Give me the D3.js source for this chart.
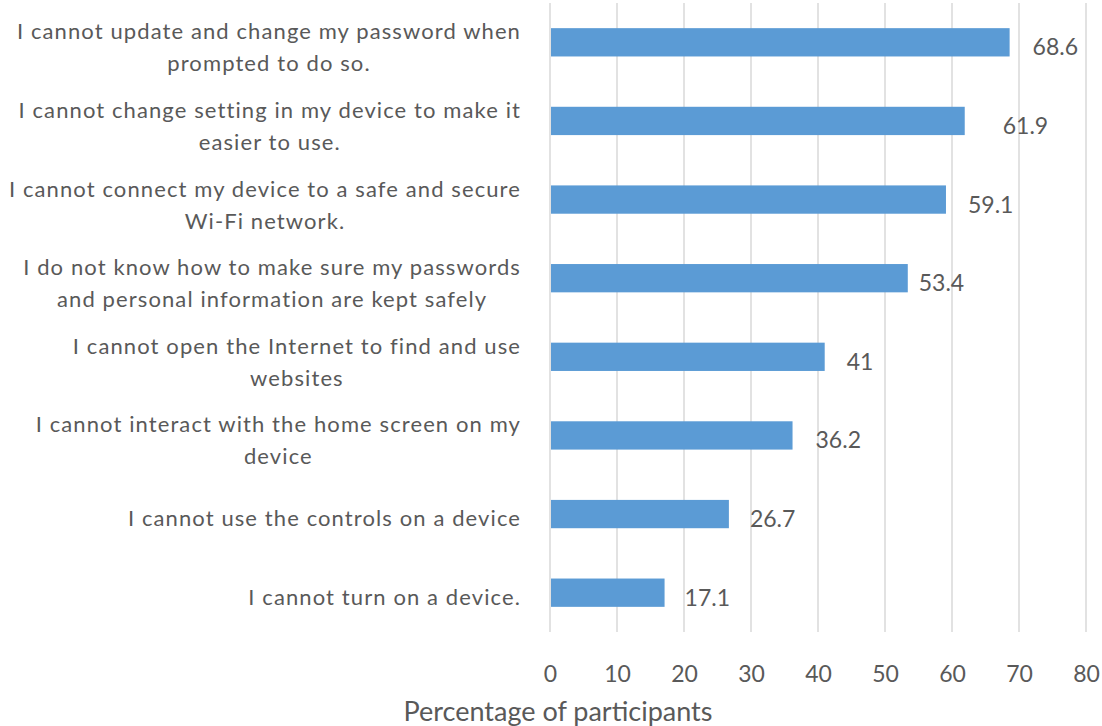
<!DOCTYPE html>
<html><head><meta charset="utf-8">
<script src="https://cdn.jsdelivr.net/npm/d3@7"></script>
<style>
html,body{margin:0;padding:0;background:#fff;overflow:hidden;}
text{font-family:Lato,"Open Sans",sans-serif;fill:#595959;}
</style></head>
<body>
<svg id="chart" width="1102" height="726"></svg>
<script>
const categories = [
  "I cannot update and change my password when prompted to do so.",
  "I cannot change setting in my device to make it easier to use.",
  "I cannot connect my device to a safe and secure Wi-Fi network.",
  "I do not know how to make sure my passwords and personal information are kept safely",
  "I cannot open the Internet to find and use websites",
  "I cannot interact with the home screen on my device",
  "I cannot use the controls on a device",
  "I cannot turn on a device."
];
const labelLines = [
  ["I cannot update and change my password when", "prompted to do so."],
  ["I cannot change setting in my device to make it", "easier to use."],
  ["I cannot connect my device to a safe and secure", "Wi-Fi network."],
  ["I do not know how to make sure my passwords", "and personal information are kept safely"],
  ["I cannot open the Internet to find and use", "websites"],
  ["I cannot interact with the home screen on my", "device"],
  ["I cannot use the controls on a device"],
  ["I cannot turn on a device."]
];
const values = [68.6, 61.9, 59.1, 53.4, 41, 36.2, 26.7, 17.1];
const xTicks = [0, 10, 20, 30, 40, 50, 60, 70, 80];
const xTitle = "Percentage of participants";

// layout (not data)
const valueLabelGap = [23, 38, 22, 11, 22, 23, 21, 20];

const svg = d3.select("#chart");
const M = { left: 550, right: 1086, top: 3, bottom: 632 };

const x = d3.scaleLinear().domain([0, 80]).range([M.left, M.right]);
const y = d3.scaleBand().domain(categories).range([M.top, M.bottom]).paddingInner(0.64).paddingOuter(0.32);

// gridlines
svg.append("g").selectAll("line").data(xTicks).join("line")
  .attr("x1", d => x(d)).attr("x2", d => x(d))
  .attr("y1", M.top).attr("y2", M.bottom)
  .attr("stroke", "#D9D9D9").attr("stroke-width", 1.5);

// bars
svg.append("g").selectAll("rect").data(values).join("rect")
  .attr("x", x(0) + 1)
  .attr("y", (d, i) => y(categories[i]))
  .attr("width", d => x(d) - x(0) - 1)
  .attr("height", y.bandwidth())
  .attr("fill", "#5B9BD5");

// value labels
svg.append("g").selectAll("text").data(values).join("text")
  .attr("x", (d, i) => x(d) + valueLabelGap[i])
  .attr("y", (d, i) => y(categories[i]) + y.bandwidth() / 2 + 13)
  .attr("font-size", 23)
  .text(d => d);

// category labels
const lineH = 32;
const labelRight = 521;
const lg = svg.append("g");
categories.forEach((c, i) => {
  const lines = labelLines[i];
  const cy = y(c) + y.bandwidth() / 2;
  const base = lines.length === 1 ? cy + 12 : cy - 3;
  const t = lg.append("text").attr("font-size", 22).attr("text-anchor", "middle")
    .attr("letter-spacing", 1.1);
  const spans = lines.map((ln, j) => t.append("tspan")
    .attr("y", base + j * lineH)
    .text(ln));
  let maxW = 0;
  spans.forEach(s => { maxW = Math.max(maxW, s.node().getComputedTextLength()); });
  spans.forEach(s => s.attr("x", labelRight - maxW / 2));
});

// x axis tick labels
const axis = d3.axisBottom(x).tickValues(xTicks).tickSize(0).tickPadding(0);
const ag = svg.append("g").attr("transform", `translate(0,${M.bottom})`).call(axis);
ag.select(".domain").remove();
ag.selectAll("text").attr("font-size", 23).attr("fill", "#595959")
  .attr("dy", null).attr("y", 50)
  .style("font-family", "Lato, 'Open Sans', sans-serif");

// axis title
svg.append("text").attr("x", 558).attr("y", 721)
  .attr("text-anchor", "middle")
  .attr("font-size", 27).text(xTitle);
</script>
</body></html>
